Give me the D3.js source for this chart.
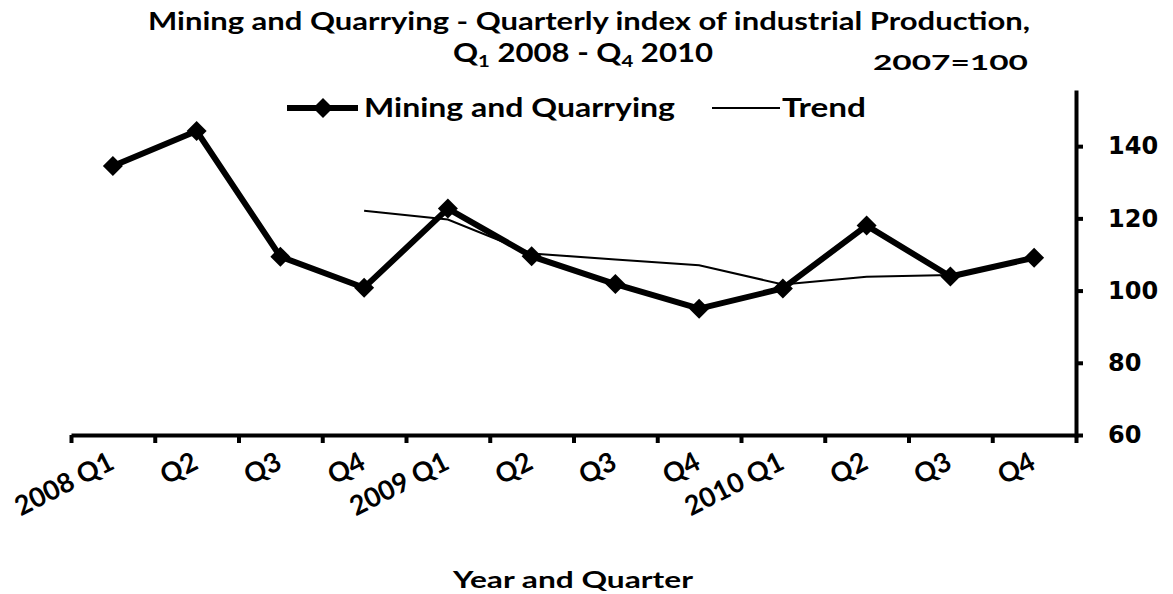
<!DOCTYPE html>
<html>
<head>
<meta charset="utf-8">
<script src="https://cdn.jsdelivr.net/npm/d3@7"></script>
<style>
  body { margin: 0; background: #fff; }
  svg { display: block; }
  text { fill: #000; }
</style>
</head>
<body>
<svg id="chart" width="1173" height="594"></svg>
<script>
// quarters and what the axis prints under them
const periods = ['2008Q1', '2008Q2', '2008Q3', '2008Q4', '2009Q1', '2009Q2',
                 '2009Q3', '2009Q4', '2010Q1', '2010Q2', '2010Q3', '2010Q4'];
const tickLabels = ['2008 Q1', 'Q2', 'Q3', 'Q4', '2009 Q1', 'Q2',
                    'Q3', 'Q4', '2010 Q1', 'Q2', 'Q3', 'Q4'];

// index values, 2007=100
const mining = [134.5, 144.2, 109.4, 100.8, 122.7, 109.5, 101.8, 95.0, 100.6, 118.0, 103.9, 109.1];
const trend  = [null, null, null, 122.1, 119.7, 110.3, 108.6, 107.0, 101.7, 103.8, 104.3, null];

const yTicks = [60, 80, 100, 120, 140];

const titleFont = 'Lato, "Open Sans", sans-serif';
const numFont = '"DejaVu Sans", Verdana, sans-serif';

const svg = d3.select('#chart');

const plot = {left: 71, right: 1076, top: 92, bottom: 435};

let xScale = d3.scaleBand()
               .domain(periods)
               .range([plot.left, plot.right]);
let xEdge = d3.scaleLinear()
              .domain([0, periods.length])
              .range([plot.left, plot.right]);
let yScale = d3.scaleLinear()
               .domain([60, 155])
               .range([plot.bottom, plot.top]);

const cx = p => xScale(p) + xScale.bandwidth() / 2;

// titles
svg.append('text')
   .attr('x', 589).attr('y', 30)
   .attr('text-anchor', 'middle')
   .attr('font-family', titleFont).attr('font-weight', 'bold').attr('font-size', 25)
   .attr('textLength', 882).attr('lengthAdjust', 'spacingAndGlyphs')
   .text('Mining and Quarrying - Quarterly index of industrial Production,');

let sub = svg.append('text')
   .attr('x', 453).attr('y', 62)
   .attr('font-family', titleFont).attr('font-weight', 'bold').attr('font-size', 26)
   .attr('textLength', 260).attr('lengthAdjust', 'spacingAndGlyphs');
sub.append('tspan').text('Q');
sub.append('tspan').attr('font-size', 17).attr('dy', 5).text('1');
sub.append('tspan').attr('dy', -5).text(' 2008 - Q');
sub.append('tspan').attr('font-size', 17).attr('dy', 5).text('4');
sub.append('tspan').attr('dy', -5).text(' 2010');

svg.append('text')
   .attr('x', 873).attr('y', 70)
   .attr('font-family', titleFont).attr('font-weight', 'bold').attr('font-size', 21)
   .attr('textLength', 155).attr('lengthAdjust', 'spacingAndGlyphs')
   .text('2007=100');

// x axis: tick marks between quarters
let xAxis = d3.axisBottom(xEdge)
              .tickValues(d3.range(0, periods.length + 1))
              .tickSize(8).tickSizeOuter(0).tickFormat('');
let gx = svg.append('g')
            .attr('class', 'x-axis')
            .attr('transform', `translate(0, ${plot.bottom})`)
            .call(xAxis);
gx.select('.domain').attr('stroke-width', 4);
gx.selectAll('.tick line').attr('stroke-width', 4);

// x labels at quarter centres, slanted
let gxl = svg.append('g')
             .attr('transform', `translate(0, ${plot.bottom})`)
             .call(d3.axisBottom(xScale).tickSize(0).tickFormat((d, i) => tickLabels[i]));
gxl.select('.domain').remove();
gxl.selectAll('.tick text')
   .attr('x', 0).attr('y', 0).attr('dy', 0)
   .attr('transform', 'translate(3, 33) rotate(-27)')
   .attr('text-anchor', 'end')
   .attr('font-family', titleFont).attr('font-weight', 'bold').attr('font-size', 27);

// y axis on the right
let yAxis = d3.axisRight(yScale).tickValues(yTicks).tickSize(7).tickPadding(25).tickSizeOuter(0);
let gy = svg.append('g')
            .attr('class', 'y-axis')
            .attr('transform', `translate(${plot.right}, 0)`)
            .call(yAxis);
gy.select('.domain').attr('stroke-width', 4).attr('stroke-linecap', 'square');
gy.selectAll('.tick line').attr('stroke-width', 4);
gy.selectAll('.tick text')
  .attr('font-family', numFont).attr('font-weight', 'bold').attr('font-size', 24);

svg.append('text')
   .attr('x', 573).attr('y', 588)
   .attr('text-anchor', 'middle')
   .attr('font-family', titleFont).attr('font-weight', 'bold').attr('font-size', 22)
   .attr('textLength', 240).attr('lengthAdjust', 'spacingAndGlyphs')
   .text('Year and Quarter');

// series
const line = d3.line()
               .defined(d => d.v != null)
               .x(d => cx(d.p))
               .y(d => yScale(d.v));

const trendData = periods.map((p, i) => ({p, v: trend[i]}));
const miningData = periods.map((p, i) => ({p, v: mining[i]}));

svg.append('path')
   .datum(trendData)
   .attr('fill', 'none').attr('stroke', '#000').attr('stroke-width', 2)
   .attr('d', line);

svg.append('path')
   .datum(miningData)
   .attr('fill', 'none').attr('stroke', '#000').attr('stroke-width', 6)
   .attr('stroke-linejoin', 'round')
   .attr('d', line);

const diamond = d3.symbol().type(d3.symbolSquare).size(200);
svg.append('g')
   .selectAll('path')
   .data(miningData)
   .join('path')
   .attr('transform', d => `translate(${cx(d.p)}, ${yScale(d.v)}) rotate(45)`)
   .attr('d', diamond)
   .attr('fill', '#000');

// legend
let legend = svg.append('g');
legend.append('line')
      .attr('x1', 287).attr('x2', 358).attr('y1', 108).attr('y2', 108)
      .attr('stroke', '#000').attr('stroke-width', 6);
legend.append('path')
      .attr('transform', 'translate(323, 108) rotate(45)')
      .attr('d', diamond).attr('fill', '#000');
legend.append('text')
      .attr('x', 364).attr('y', 117)
      .attr('font-family', titleFont).attr('font-weight', 'bold').attr('font-size', 26)
      .attr('textLength', 311).attr('lengthAdjust', 'spacingAndGlyphs')
      .text('Mining and Quarrying');
legend.append('line')
      .attr('x1', 712).attr('x2', 780).attr('y1', 108).attr('y2', 108)
      .attr('stroke', '#000').attr('stroke-width', 2);
legend.append('text')
      .attr('x', 782).attr('y', 117)
      .attr('font-family', titleFont).attr('font-weight', 'bold').attr('font-size', 26)
      .attr('textLength', 84).attr('lengthAdjust', 'spacingAndGlyphs')
      .text('Trend');
</script>
</body>
</html>
